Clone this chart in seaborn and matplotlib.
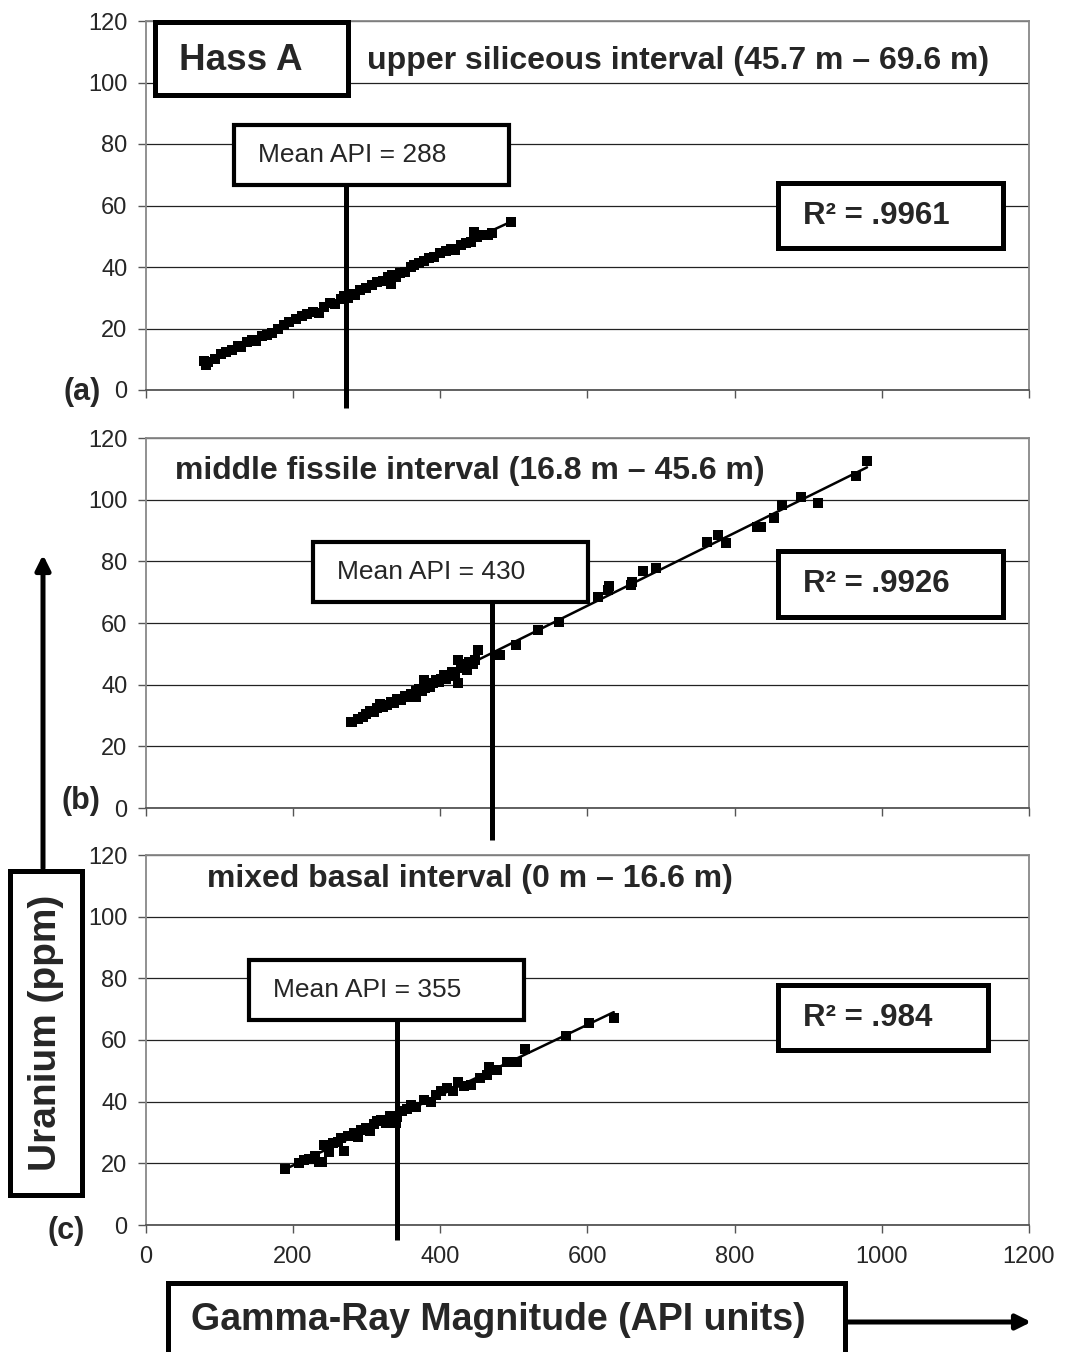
import numpy as np
import matplotlib.pyplot as plt
import seaborn as sns
from matplotlib.patches import Rectangle, FancyArrowPatch

# Panel (a): upper siliceous interval
a_api = [79, 82, 85, 95, 102, 110, 118, 125, 130, 138, 145, 150, 158, 165, 172,
         180, 188, 195, 205, 212, 220, 228, 235, 242, 250, 258, 265, 270, 275, 280,
         285, 292, 300, 308, 315, 322, 330, 333, 335, 340, 345, 352, 360, 365, 372,
         378, 385, 392, 400, 408, 415, 420, 428, 435, 442, 446, 450, 458, 465, 470, 496]
a_u = [9.5, 8.0, 9.2, 10.0, 11.8, 12.5, 13.0, 14.3, 13.9, 15.5, 16.4, 16.0, 17.6, 17.8, 18.5,
       20.0, 21.3, 22.0, 23.2, 24.1, 24.8, 25.3, 25.1, 27.0, 28.3, 28.0, 29.7, 30.5, 29.8, 31.2,
       30.9, 32.4, 33.3, 34.0, 35.1, 35.6, 36.8, 34.5, 37.5, 36.9, 38.2, 38.3, 39.9, 40.5, 41.3,
       42.0, 42.8, 43.3, 44.6, 45.1, 45.8, 45.5, 47.2, 47.9, 48.2, 51.5, 49.6, 50.3, 50.5, 51.2, 54.5]

# Panel (b): middle fissile interval
b_api = [279, 281, 288, 295, 300, 305, 310, 315, 318, 322, 328, 333, 338, 342, 347,
         352, 356, 360, 364, 367, 368, 372, 376, 378, 380, 384, 387, 390, 394, 398,
         402, 405, 408, 412, 416, 420, 424, 425, 428, 432, 436, 440, 445, 448, 452,
         482, 503, 533, 561, 615, 628, 630, 659, 661, 676, 693, 763, 777, 789, 831,
         836, 853, 865, 890, 913, 965, 980]
b_u = [27.8, 28.0, 28.8, 29.6, 30.5, 31.5, 31.0, 32.3, 33.8, 32.8, 33.5, 34.5, 34.0, 35.5, 35.1,
       36.2, 36.0, 37.1, 36.6, 36.0, 37.8, 38.5, 37.9, 41.5, 39.0, 40.2, 39.3, 40.5, 41.5, 40.8,
       42.0, 43.1, 41.9, 42.8, 44.0, 43.2, 48.0, 40.5, 45.5, 46.8, 44.9, 47.5, 46.8, 48.0, 51.2,
       49.6, 52.9, 57.7, 60.3, 68.4, 70.7, 72.0, 72.3, 73.3, 77.0, 77.8, 86.3, 88.5, 86.0, 91.1,
       91.0, 94.0, 98.3, 100.9, 99.0, 107.7, 112.5]

# Panel (c): mixed basal interval
c_api = [190, 208, 215, 222, 230, 236, 240, 242, 249, 255, 261, 265, 269, 275, 283,
         288, 293, 299, 305, 310, 315, 320, 326, 332, 340, 342, 348, 355, 360, 368,
         378, 388, 395, 402, 410, 418, 424, 432, 442, 455, 464, 466, 478, 491, 505,
         516, 571, 602, 636]
c_u = [18.2, 20.1, 21.0, 21.5, 22.5, 20.3, 20.4, 26.0, 23.7, 26.5, 27.0, 28.2, 24.0, 29.0, 29.8,
       28.6, 30.8, 31.5, 30.5, 32.6, 33.8, 34.0, 33.0, 35.2, 33.0, 35.0, 36.9, 37.6, 38.9, 38.2,
       40.5, 40.0, 42.2, 43.5, 44.4, 43.6, 46.4, 45.0, 45.4, 47.8, 48.6, 51.3, 50.2, 53.0, 52.8,
       57.0, 61.3, 65.5, 67.1]

titles = ["upper siliceous interval (45.7 m \u2013 69.6 m)",
          "middle fissile interval (16.8 m \u2013 45.6 m)",
          "mixed basal interval (0 m \u2013 16.6 m)"]
panel_tags = ["(a)", "(b)", "(c)"]
mean_api = [288, 430, 355]
mean_line_x = [273, 470, 341]
mean_line_y = [(-5.8, 66.7), (-10.4, 66.8), (-4.9, 66.5)]
r2_text = [".9961", ".9926", ".984"]

W, H = 1065, 1352
sns.set_style("ticks")
plt.rcParams["font.family"] = ["Liberation Sans", "DejaVu Sans"]

fig = plt.figure(figsize=(W / 100, H / 100), dpi=100)


def fx(px):
    return px / W


def fy(py):
    return 1 - py / H


def box(x0, y0, x1, y1, lw=3.6):
    r = Rectangle((fx(x0), fy(y1)), fx(x1) - fx(x0), (y1 - y0) / H,
                  transform=fig.transFigure, facecolor="white",
                  edgecolor="black", lw=lw, zorder=10)
    fig.add_artist(r)


ax_left, ax_right = 145.5, 1029
tops = [21, 438, 855]
bottoms = [390, 808, 1225]
data = [(a_api, a_u), (b_api, b_u), (c_api, c_u)]

# layout of the decorations (pixels)
title_pos = [(367, 61), (175, 471), (207, 879)]
tag_pos = [(101, 392), (100, 801), (85, 1231)]
mean_box = [(234, 125, 509, 185), (313, 542, 588, 602), (249, 960, 524, 1020)]
r2_box = [(778, 183, 1003, 248), (778, 551, 1003, 617), (778, 985, 988, 1050)]

for i in range(3):
    ax = fig.add_axes([fx(ax_left), fy(bottoms[i]),
                       fx(ax_right) - fx(ax_left), (bottoms[i] - tops[i]) / H])
    x, y = data[i]
    sns.regplot(x=x, y=y, ax=ax, ci=None, marker="s", color="black",
                scatter_kws=dict(s=42, linewidths=0, zorder=3, alpha=1),
                line_kws=dict(lw=1.8, zorder=4))
    ax.set_xlim(0, 1200)
    ax.set_ylim(0, 120)
    ax.set_xticks(range(0, 1201, 200))
    ax.set_yticks(range(0, 121, 20))
    ax.set_axisbelow(True)
    ax.yaxis.grid(True, color="#222222", lw=0.9)
    for s in ax.spines.values():
        s.set_color("#888888")
        s.set_linewidth(1.3)
    ax.spines["bottom"].set_color("#555555")
    ax.tick_params(direction="out", length=6, width=1, color="#555555",
                   labelsize=17)
    ax.tick_params(axis="y", pad=7)
    ax.tick_params(axis="x", pad=9)
    if i < 2:
        ax.set_xticklabels([])
    ax.set_xlabel("")
    ax.set_ylabel("")

    # mean API marker line
    ax.plot([mean_line_x[i]] * 2, list(mean_line_y[i]), color="black",
            lw=3.6, clip_on=False, zorder=6, solid_capstyle="butt")

    fig.text(fx(title_pos[i][0]), fy(title_pos[i][1]), titles[i],
             fontsize=23, fontweight="bold", ha="left", va="center")
    fig.text(fx(tag_pos[i][0]), fy(tag_pos[i][1]), panel_tags[i],
             fontsize=22, fontweight="bold", ha="right", va="center")

    x0, y0, x1, y1 = mean_box[i]
    box(x0, y0, x1, y1, lw=3.0)
    fig.text(fx(x0 + 24), fy((y0 + y1) / 2), f"Mean API = {mean_api[i]}",
             fontsize=19, ha="left", va="center", zorder=11)

    x0, y0, x1, y1 = r2_box[i]
    box(x0, y0, x1, y1)
    fig.text(fx(x0 + 25), fy((y0 + y1) / 2), "R\u00b2 = " + r2_text[i],
             fontsize=22.5, fontweight="bold", ha="left", va="center", zorder=11)

# Hass A label
box(155, 22, 348, 95)
fig.text(fx(241), fy(60), "Hass A", fontsize=26.5, fontweight="bold",
         ha="center", va="center", zorder=11)

# y axis label with arrow
box(10, 871, 82, 1195)
fig.text(fx(46), fy(1033), "Uranium (ppm)", fontsize=28, fontweight="bold",
         rotation=90, ha="center", va="center", zorder=11)
fig.add_artist(FancyArrowPatch((fx(43), fy(871)), (fx(43), fy(552)),
                               transform=fig.transFigure, arrowstyle="-|>",
                               mutation_scale=22, lw=3.6, color="black"))

# x axis label with arrow
box(168, 1283, 845, 1354)
fig.text(fx(498), fy(1320), "Gamma-Ray Magnitude (API units)", fontsize=27,
         fontweight="bold", ha="center", va="center", zorder=11)
fig.add_artist(FancyArrowPatch((fx(845), fy(1322)), (fx(1034), fy(1322)),
                               transform=fig.transFigure, arrowstyle="-|>",
                               mutation_scale=22, lw=3.6, color="black"))

fig.savefig("out.png", dpi=100)
